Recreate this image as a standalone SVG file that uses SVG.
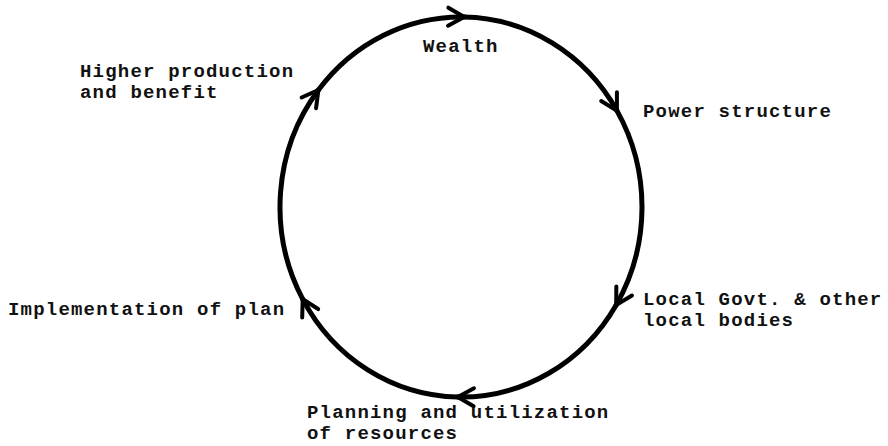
<svg xmlns="http://www.w3.org/2000/svg" width="888" height="446" viewBox="0 0 888 446">
  <style>
    .lbl { font-family: "Liberation Mono", "Courier New", monospace; font-size: 19px; letter-spacing: 1.2px; font-weight: bold; fill: #111; }
    .arc { fill: none; stroke: #000; stroke-width: 5; stroke-linecap: round; marker-end: url(#chev); }
  </style>
  <defs>
    <marker id="chev" markerUnits="userSpaceOnUse" markerWidth="30" markerHeight="30" viewBox="-20 -15 30 30" refX="0" refY="0" orient="auto">
      <path d="M -16 -9 L 0 0 L -16 9" fill="none" stroke="#000" stroke-width="4" stroke-linecap="round" stroke-linejoin="miter"/>
    </marker>
  </defs>
  <rect width="888" height="446" fill="#fff"/>
  <g id="connectors">
    <path class="arc" d="M 464.2 17.0 A 181 190 0 0 1 616.9 110.6"/>
    <path class="arc" d="M 616.9 110.6 A 181 190 0 0 1 616.2 304.9"/>
    <path class="arc" d="M 616.2 304.9 A 181 190 0 0 1 457.8 397.0"/>
    <path class="arc" d="M 457.8 397.0 A 181 190 0 0 1 302.7 299.1"/>
    <path class="arc" d="M 302.7 299.1 A 181 190 0 0 1 318.4 90.0"/>
    <path class="arc" d="M 318.4 90.0 A 181 190 0 0 1 464.2 17.0"/>
  </g>
  <g id="wealth"><text class="lbl" x="423" y="52">Wealth</text></g>
  <g id="power-structure"><text class="lbl" x="643" y="117">Power structure</text></g>
  <g id="local-govt">
    <text class="lbl" x="643" y="305">Local Govt. &amp; other</text>
    <text class="lbl" x="643" y="326">local bodies</text>
  </g>
  <g id="planning">
    <text class="lbl" x="307" y="418">Planning and utilization</text>
    <text class="lbl" x="307" y="439">of resources</text>
  </g>
  <g id="implementation"><text class="lbl" x="8" y="315">Implementation of plan</text></g>
  <g id="higher-production">
    <text class="lbl" x="80" y="77">Higher production</text>
    <text class="lbl" x="80" y="98">and benefit</text>
  </g>
</svg>
